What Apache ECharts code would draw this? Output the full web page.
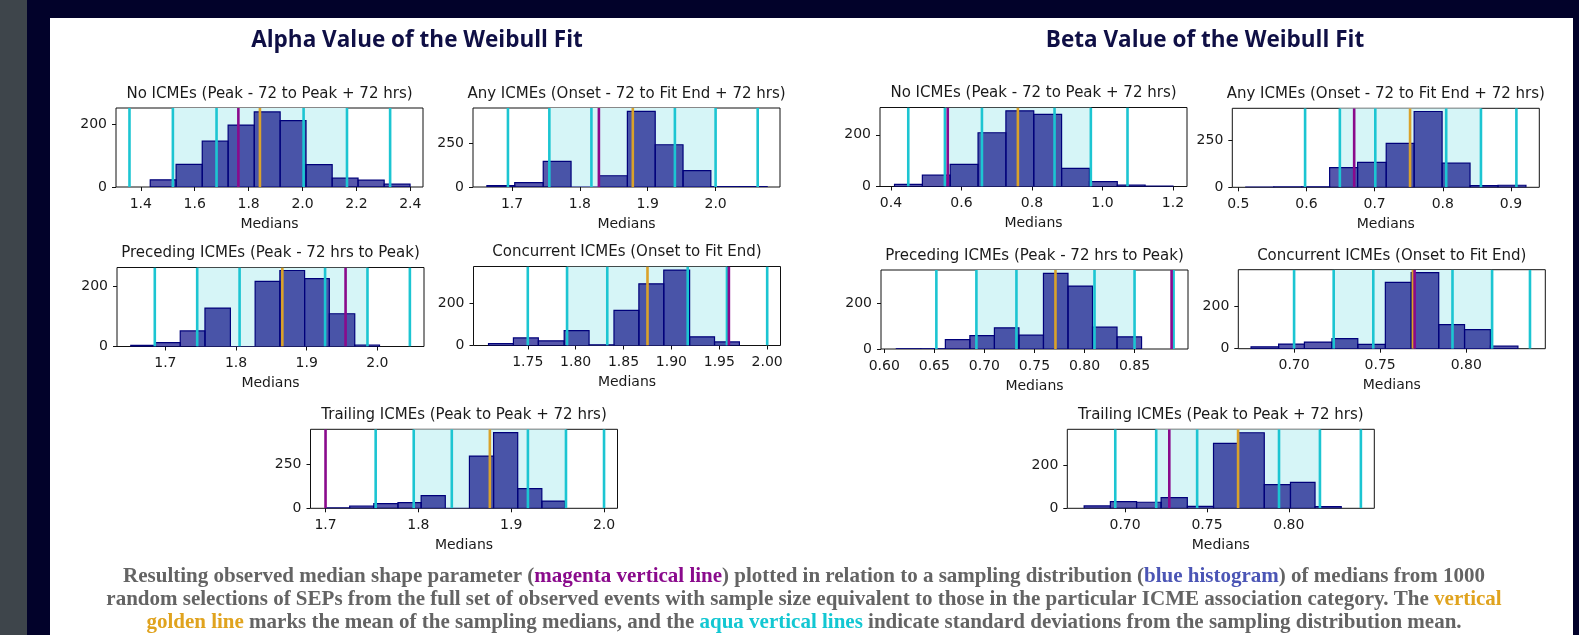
<!DOCTYPE html>
<html><head><meta charset="utf-8">
<script src="https://cdn.jsdelivr.net/npm/echarts@6/dist/echarts.min.js"></script>
<style>
html,body{margin:0;padding:0;background:#3e454b;overflow:hidden;}
#navy{position:absolute;left:27px;top:0;width:1552px;height:635px;background:#02022a;}
#paper{position:absolute;left:50px;top:18px;width:1523px;height:617px;background:#fff;}
#c{position:absolute;left:0;top:0;width:1579px;height:635px;}
</style>
</head><body><div id="navy"></div><div id="paper"></div><div id="c"></div><script>
// ---------- Alpha: No ICMEs ----------
const aNoEdges  = [1.435,1.531,1.628,1.724,1.821,1.917,2.013,2.110,2.206,2.303,2.399];
const aNoCounts = [23,72,146,197,239,211,71,28,22,9];
const aNoSD     = [1.358,1.519,1.681,2.004,2.165,2.325];
const aNoMean   = 1.842;
const aNoObs    = 1.762;
const aNoXTicks = [1.4,1.6,1.8,2.0,2.2,2.4];
const aNoYTicks = [0,200];
// ---------- Alpha: Any ICMEs ----------
const aAnyEdges  = [1.663,1.704,1.746,1.787,1.828,1.870,1.911,1.952,1.993,2.035,2.076];
const aAnyCounts = [8,25,146,0,64,430,240,93,2,2];
const aAnySD     = [1.694,1.755,1.817,1.940,2.000,2.062];
const aAnyMean   = 1.878;
const aAnyObs    = 1.828;
const aAnyXTicks = [1.7,1.8,1.9,2.0];
const aAnyYTicks = [0,250];
// ---------- Alpha: Preceding ICMEs ----------
const aPreEdges  = [1.651,1.686,1.721,1.756,1.792,1.827,1.862,1.897,1.932,1.968,2.003];
const aPreCounts = [4,13,52,128,0,217,253,226,109,5];
const aPreSD     = [1.685,1.745,1.805,1.926,1.986,2.046];
const aPreMean   = 1.8655;
const aPreObs    = 1.955;
const aPreXTicks = [1.7,1.8,1.9,2.0];
const aPreYTicks = [0,200];
// ---------- Alpha: Concurrent ICMEs ----------
const aConEdges  = [1.709,1.735,1.761,1.788,1.814,1.840,1.866,1.892,1.919,1.945,1.971];
const aConCounts = [9,36,22,70,3,166,291,356,41,17];
const aConSD     = [1.750,1.791,1.833,1.917,1.958,2.000];
const aConMean   = 1.875;
const aConObs    = 1.960;
const aConXTicks = [1.75,1.80,1.85,1.90,1.95,2.00];
const aConYTicks = [0,200];
// ---------- Alpha: Trailing ICMEs ----------
const aTraEdges  = [1.700,1.726,1.752,1.778,1.803,1.829,1.855,1.881,1.907,1.933,1.958];
const aTraCounts = [2,13,26,32,72,0,295,427,111,41];
const aTraSD     = [1.754,1.795,1.836,1.918,1.959,2.000];
const aTraMean   = 1.877;
const aTraObs    = 1.700;
const aTraXTicks = [1.7,1.8,1.9,2.0];
const aTraYTicks = [0,250];
// ---------- Beta: No ICMEs ----------
const bNoEdges  = [0.410,0.489,0.568,0.647,0.726,0.805,0.884,0.963,1.042,1.121,1.200];
const bNoCounts = [8,44,86,208,293,279,70,19,5,2];
const bNoSD     = [0.449,0.553,0.658,0.864,0.967,1.071];
const bNoMean   = 0.760;
const bNoObs    = 0.561;
const bNoXTicks = [0.4,0.6,0.8,1.0,1.2];
const bNoYTicks = [0,200];
// ---------- Beta: Any ICMEs ----------
const bAnyEdges  = [0.511,0.552,0.593,0.634,0.675,0.717,0.758,0.799,0.840,0.881,0.922];
const bAnyCounts = [1,2,3,105,133,234,403,128,9,11];
const bAnySD     = [0.598,0.649,0.701,0.805,0.856,0.908];
const bAnyMean   = 0.752;
const bAnyObs    = 0.670;
const bAnyXTicks = [0.5,0.6,0.7,0.8,0.9];
const bAnyYTicks = [0,250];
// ---------- Beta: Preceding ICMEs ----------
const bPreEdges  = [0.612,0.6365,0.661,0.6855,0.710,0.7345,0.759,0.7835,0.808,0.8325,0.857];
const bPreCounts = [1,1,41,58,92,60,328,273,95,53];
const bPreSD     = [0.652,0.692,0.732,0.810,0.850,0.889];
const bPreMean   = 0.771;
const bPreObs    = 0.887;
const bPreXTicks = [0.60,0.65,0.70,0.75,0.80,0.85];
const bPreYTicks = [0,200];
// ---------- Beta: Concurrent ICMEs ----------
const bConEdges  = [0.675,0.691,0.706,0.722,0.737,0.753,0.768,0.784,0.799,0.814,0.830];
const bConCounts = [9,22,31,47,20,312,358,113,90,12];
const bConSD     = [0.700,0.723,0.746,0.792,0.815,0.837];
const bConMean   = 0.769;
const bConObs    = 0.770;
const bConXTicks = [0.70,0.75,0.80];
const bConYTicks = [0,200];
// ---------- Beta: Trailing ICMEs ----------
const bTraEdges  = [0.675,0.691,0.707,0.722,0.738,0.754,0.769,0.785,0.801,0.816,0.832];
const bTraCounts = [11,31,28,49,9,300,349,109,120,8];
const bTraSD     = [0.694,0.719,0.744,0.794,0.819,0.844];
const bTraMean   = 0.769;
const bTraObs    = 0.727;
const bTraXTicks = [0.70,0.75,0.80];
const bTraYTicks = [0,200];

const titleAlpha = 'Alpha Value of the Weibull Fit';
const titleBeta  = 'Beta Value of the Weibull Fit';
const xName = 'Medians';

// ---------- layout ----------
const panels = [
  {title:'No ICMEs (Peak - 72 to Peak + 72 hrs)', e:aNoEdges, c:aNoCounts, sd:aNoSD, m:aNoMean, o:aNoObs, xt:aNoXTicks, yt:aNoYTicks, dec:1, left:116, top:108, xmin:1.308, xmax:2.447, ymax:251.5},
  {title:'Any ICMEs (Onset - 72 to Fit End + 72 hrs)', e:aAnyEdges, c:aAnyCounts, sd:aAnySD, m:aAnyMean, o:aAnyObs, xt:aAnyXTicks, yt:aAnyYTicks, dec:1, left:473, top:108, xmin:1.6425, xmax:2.0949, ymax:449},
  {title:'Preceding ICMEs (Peak - 72 hrs to Peak)', e:aPreEdges, c:aPreCounts, sd:aPreSD, m:aPreMean, o:aPreObs, xt:aPreXTicks, yt:aPreYTicks, dec:1, left:117, top:267.5, xmin:1.6315, xmax:2.066, ymax:263},
  {title:'Concurrent ICMEs (Onset to Fit End)', e:aConEdges, c:aConCounts, sd:aConSD, m:aConMean, o:aConObs, xt:aConXTicks, yt:aConYTicks, dec:2, left:473.5, top:266.5, xmin:1.6933, xmax:2.0139, ymax:373},
  {title:'Trailing ICMEs (Peak to Peak + 72 hrs)', e:aTraEdges, c:aTraCounts, sd:aTraSD, m:aTraMean, o:aTraObs, xt:aTraXTicks, yt:aTraYTicks, dec:1, left:310.5, top:429.3, xmin:1.6838, xmax:2.0145, ymax:446},
  {title:'No ICMEs (Peak - 72 to Peak + 72 hrs)', e:bNoEdges, c:bNoCounts, sd:bNoSD, m:bNoMean, o:bNoObs, xt:bNoXTicks, yt:bNoYTicks, dec:1, left:880, top:107.5, xmin:0.3688, xmax:1.2398, ymax:305.8},
  {title:'Any ICMEs (Onset - 72 to Fit End + 72 hrs)', e:bAnyEdges, c:bAnyCounts, sd:bAnySD, m:bAnyMean, o:bAnyObs, xt:bAnyXTicks, yt:bAnyYTicks, dec:1, left:1232.3, top:108.3, xmin:0.4912, xmax:0.9416, ymax:420},
  {title:'Preceding ICMEs (Peak - 72 hrs to Peak)', e:bPreEdges, c:bPreCounts, sd:bPreSD, m:bPreMean, o:bPreObs, xt:bPreXTicks, yt:bPreYTicks, dec:2, left:881, top:270, xmin:0.5967, xmax:0.9034, ymax:343},
  {title:'Concurrent ICMEs (Onset to Fit End)', e:bConEdges, c:bConCounts, sd:bConSD, m:bConMean, o:bConObs, xt:bConXTicks, yt:bConYTicks, dec:2, left:1238.3, top:269.7, xmin:0.6676, xmax:0.8459, ymax:372},
  {title:'Trailing ICMEs (Peak to Peak + 72 hrs)', e:bTraEdges, c:bTraCounts, sd:bTraSD, m:bTraMean, o:bTraObs, xt:bTraXTicks, yt:bTraYTicks, dec:2, left:1067.3, top:429.3, xmin:0.6647, xmax:0.8522, ymax:365}
];
const GW = 307, GH = 79;

const C_CYAN = '#1cc5d2', C_GOLD = '#daa22a', C_MAG = '#8a0a8c', C_SHADE = '#d6f5f7';
const C_BAR = 'rgba(0,0,128,0.66)', C_EDGE = '#00007a';
const FONT = 'DejaVu Sans';
const CAPFONT = 'bold 21px "Liberation Serif"';

const grid = [], xAxis = [], yAxis = [], series = [], graphic = [];

function vline(color, lw){
  return function(params, api){
    const cs = params.coordSys;
    const x = api.coord([api.value(0), 0])[0];
    return {type:'line', shape:{x1:x, y1:cs.y, x2:x, y2:cs.y+cs.height}, style:{stroke:color, lineWidth:lw}};
  };
}

panels.forEach((p, i) => {
  grid.push({left:p.left, top:p.top, width:GW, height:GH, show:true, borderColor:'#111', borderWidth:1, backgroundColor:'transparent', containLabel:false});
  xAxis.push({
    type:'value', gridIndex:i, min:p.xmin, max:p.xmax,
    axisLine:{show:false}, splitLine:{show:false},
    axisTick:{show:true, length:4, lineStyle:{color:'#111', width:1}, customValues:p.xt},
    axisLabel:{customValues:p.xt, formatter:v=>v.toFixed(p.dec), color:'#1a1a1a', fontSize:14, fontFamily:FONT, margin:10},
    name:xName, nameLocation:'middle', nameGap:37,
    nameTextStyle:{color:'#1a1a1a', fontSize:14, fontFamily:FONT, verticalAlign:'middle'}
  });
  yAxis.push({
    type:'value', gridIndex:i, min:0, max:p.ymax,
    axisLine:{show:false}, splitLine:{show:false},
    axisTick:{show:true, length:4, lineStyle:{color:'#111', width:1}, customValues:p.yt},
    axisLabel:{customValues:p.yt, color:'#1a1a1a', fontSize:14, fontFamily:FONT, margin:9}
  });
  // shaded +-2 sigma band
  series.push({
    type:'custom', xAxisIndex:i, yAxisIndex:i, z:1, clip:true, silent:true,
    data:[[p.sd[1], p.sd[4]]], encode:{x:[0,1]},
    renderItem:(params, api)=>{
      const cs = params.coordSys;
      const a = api.coord([api.value(0),0])[0], b = api.coord([api.value(1),0])[0];
      return {type:'rect', shape:{x:a, y:cs.y, width:b-a, height:cs.height}, style:{fill:C_SHADE}};
    }
  });
  // histogram
  series.push({
    type:'custom', xAxisIndex:i, yAxisIndex:i, z:2, clip:true,
    data:p.c.map((c,k)=>[p.e[k], p.e[k+1], c]), encode:{x:[0,1], y:2},
    renderItem:(params, api)=>{
      const p0 = api.coord([api.value(0), 0]);
      const p1 = api.coord([api.value(1), api.value(2)]);
      return {type:'rect', shape:{x:p0[0], y:p1[1], width:p1[0]-p0[0], height:p0[1]-p1[1]},
              style:{fill:C_BAR, stroke:C_EDGE, lineWidth:1.2}};
    }
  });
  // std-dev lines
  series.push({type:'custom', xAxisIndex:i, yAxisIndex:i, z:3, clip:true, silent:true,
    data:p.sd.map(v=>[v,0]), encode:{x:0, y:1}, renderItem:vline(C_CYAN, 2.6)});
  // mean
  series.push({type:'custom', xAxisIndex:i, yAxisIndex:i, z:4, clip:true, silent:true,
    data:[[p.m,0]], encode:{x:0, y:1}, renderItem:vline(C_GOLD, 2.6)});
  // observed
  series.push({type:'custom', xAxisIndex:i, yAxisIndex:i, z:5, clip:true, silent:true,
    data:[[p.o,0]], encode:{x:0, y:1}, renderItem:vline(C_MAG, 2.6)});
  // subplot title
  graphic.push({type:'text', x:p.left+GW/2, y:p.top-14, style:{text:p.title, fill:'#1a1a1a', font:'15px "DejaVu Sans"', textAlign:'center', textVerticalAlign:'middle'}});
});

graphic.push({type:'text', x:417, y:41, style:{text:titleAlpha, fill:'#0f0f45', font:'bold 22.5px "Open Sans"', textAlign:'center', textVerticalAlign:'middle'}});
graphic.push({type:'text', x:1205, y:41, style:{text:titleBeta, fill:'#0f0f45', font:'bold 22.5px "Open Sans"', textAlign:'center', textVerticalAlign:'middle'}});

const capRich = {
  g:{fill:'#646464', color:'#646464', font:CAPFONT},
  m:{fill:'#8a0a8c', color:'#8a0a8c', font:CAPFONT},
  b:{fill:'#4b55b5', color:'#4b55b5', font:CAPFONT},
  y:{fill:'#e0a31e', color:'#e0a31e', font:CAPFONT},
  a:{fill:'#12c7d2', color:'#12c7d2', font:CAPFONT}
};
const capLines = [
  '{g|Resulting observed median shape parameter (}{m|magenta vertical line}{g|) plotted in relation to a sampling distribution (}{b|blue histogram}{g|) of medians from 1000}',
  '{g|random selections of SEPs from the full set of observed events with sample size equivalent to those in the particular ICME association category. The }{y|vertical}',
  '{y|golden line}{g| marks the mean of the sampling medians, and the }{a|aqua vertical lines}{g| indicate standard deviations from the sampling distribution mean.}'
];
[577, 600, 623].forEach((yy, k) => {
  graphic.push({type:'text', x:804, y:yy, style:{text:capLines[k], rich:capRich, font:CAPFONT, textAlign:'center', textVerticalAlign:'middle'}});
});

const chart = echarts.init(document.getElementById('c'), null, {renderer:'canvas'});
chart.setOption({animation:false, backgroundColor:'transparent', grid, xAxis, yAxis, series, graphic});
</script></body></html>
